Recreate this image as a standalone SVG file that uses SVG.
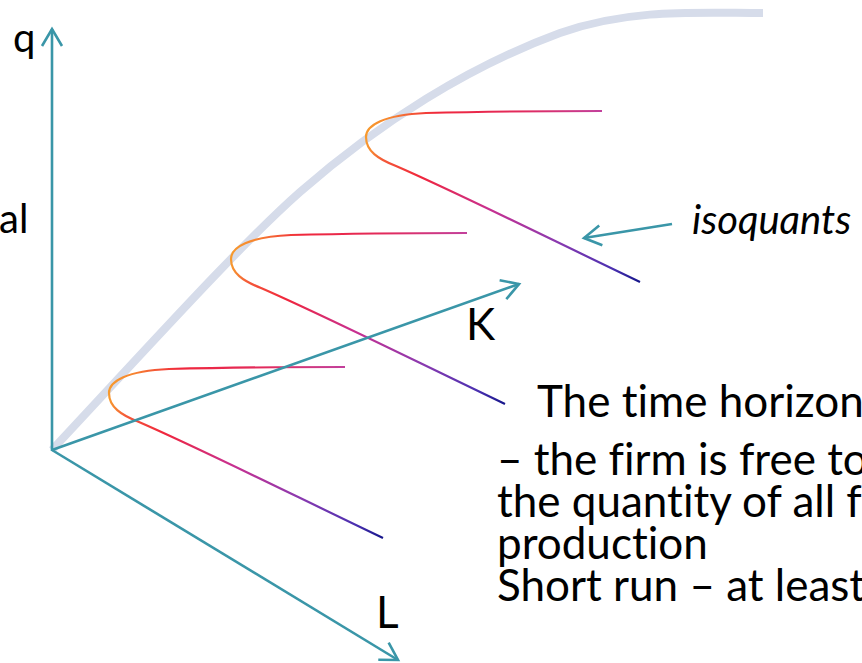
<svg xmlns="http://www.w3.org/2000/svg" width="862" height="663" viewBox="0 0 862 663">
<style>
  .axis { fill: none; stroke: #3a96a8; stroke-width: 2.6; marker-end: url(#arr); }
  .lbl { font-family: Lato, "Open Sans", sans-serif; fill: #000; font-variant-ligatures: none; }
  .iso { fill: none; stroke-width: 2.2; }
  .total { fill: none; stroke: #d6dcea; stroke-width: 8; }
</style>
<defs>
  <marker id="arr" markerUnits="userSpaceOnUse" markerWidth="40" markerHeight="40" viewBox="-20 -20 40 40" refX="0" refY="0" orient="auto" overflow="visible">
    <path d="M-17,-10 L0,0 L-17,10" fill="none" stroke="#3a96a8" stroke-width="2.6" stroke-linejoin="miter"/>
  </marker>
  <linearGradient id="gUp" gradientUnits="userSpaceOnUse" x1="0" y1="0" x2="236" y2="0">
    <stop offset="0" stop-color="#f79a2e"/>
    <stop offset="0.1" stop-color="#f7862f"/>
    <stop offset="0.3" stop-color="#f0283c"/>
    <stop offset="0.65" stop-color="#e22a5c"/>
    <stop offset="1" stop-color="#c2409c"/>
  </linearGradient>
  <linearGradient id="gLo" gradientUnits="userSpaceOnUse" x1="0" y1="0" x2="274" y2="0">
    <stop offset="0" stop-color="#f79a2e"/>
    <stop offset="0.06" stop-color="#f45a38"/>
    <stop offset="0.2" stop-color="#f0263c"/>
    <stop offset="0.45" stop-color="#c83090"/>
    <stop offset="0.7" stop-color="#8a3ab0"/>
    <stop offset="0.9" stop-color="#4a30b0"/>
    <stop offset="1" stop-color="#15158a"/>
  </linearGradient>
</defs>

<g id="total-product-curve">
  <path class="total" d="M52,450 C150,345 240,245 300,192 C380,122 470,66 560,33 C630,8 700,13 763,13"/>
</g>

<g id="isoquant-1" transform="translate(109,393)">
  <path class="iso" stroke="url(#gUp)" d="M236,-26 C180,-26 120,-25.5 60,-24 C18,-22 0,-12 0,0"/>
  <path class="iso" stroke="url(#gLo)" d="M0,0 C0,14 12,22 30,29 C90,55 180,100 274,145"/>
</g>
<g id="isoquant-2" transform="translate(231,259)">
  <path class="iso" stroke="url(#gUp)" d="M236,-26 C180,-26 120,-25.5 60,-24 C18,-22 0,-12 0,0"/>
  <path class="iso" stroke="url(#gLo)" d="M0,0 C0,14 12,22 30,29 C90,55 180,100 274,145"/>
</g>
<g id="isoquant-3" transform="translate(366,137)">
  <path class="iso" stroke="url(#gUp)" d="M236,-26 C180,-26 120,-25.5 60,-24 C18,-22 0,-12 0,0"/>
  <path class="iso" stroke="url(#gLo)" d="M0,0 C0,14 12,22 30,29 C90,55 180,100 274,145"/>
</g>

<g id="connectors">
  <line class="axis" x1="52" y1="451" x2="52" y2="29"/>
  <line class="axis" x1="52" y1="450" x2="519" y2="284"/>
  <line class="axis" x1="52" y1="450" x2="398" y2="660"/>
  <line class="axis" x1="672" y1="224" x2="584" y2="238"/>
</g>

<g id="label-q"><text class="lbl" x="13" y="52" font-size="40">q</text></g>
<g id="label-al"><text class="lbl" x="-1" y="233" font-size="40">al</text></g>
<g id="label-K"><text class="lbl" x="466" y="340" font-size="44">K</text></g>
<g id="label-L"><text class="lbl" x="376" y="628" font-size="44">L</text></g>
<g id="label-isoquants"><text class="lbl" x="692" y="234" font-size="40" font-style="italic">isoquants</text></g>

<g id="text-block" class="lbl" font-size="44">
  <text class="lbl" x="537" y="417">The time horizon</text>
  <text class="lbl" x="497" y="475">– the firm is free to</text>
  <text class="lbl" x="497" y="517">the quantity of all fa</text>
  <text class="lbl" x="497" y="559">production</text>
  <text class="lbl" x="497" y="601">Short run – at least</text>
</g>
</svg>
